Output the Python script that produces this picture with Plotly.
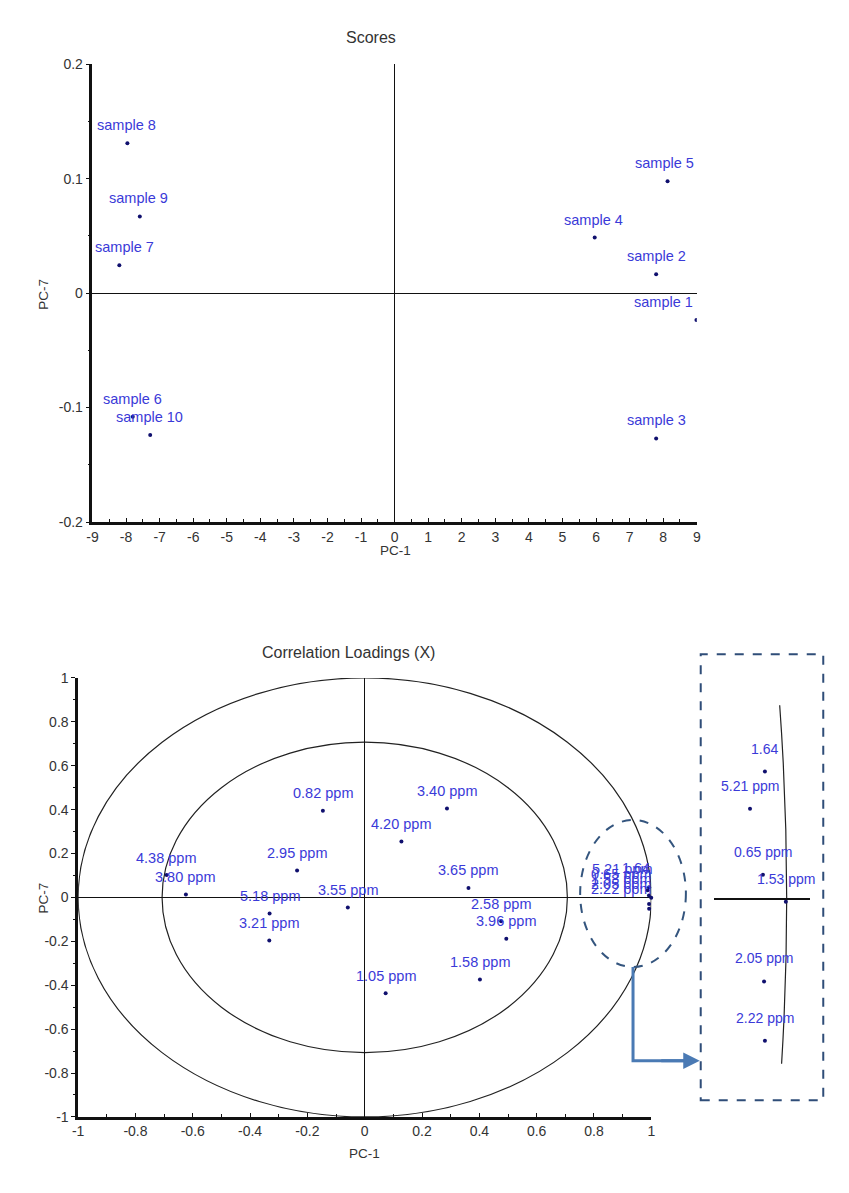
import plotly.graph_objects as go

# ---------------- data ----------------
score_labels = ["sample 1", "sample 2", "sample 3", "sample 4", "sample 5",
                "sample 6", "sample 7", "sample 8", "sample 9", "sample 10"]
score_pc1 = [8.99, 7.79, 7.79, 5.96, 8.13, -7.80, -8.20, -7.96, -7.59, -7.28]
score_pc7 = [-0.0235, 0.0164, -0.127, 0.0485, 0.0977, -0.108, 0.0244, 0.131, 0.067, -0.124]

load_labels = ["3.40 ppm", "4.20 ppm", "3.65 ppm", "3.96 ppm", "2.58 ppm", "1.58 ppm",
               "1.05 ppm", "0.82 ppm", "2.95 ppm", "4.38 ppm", "3.80 ppm", "5.18 ppm",
               "3.55 ppm", "3.21 ppm",
               "1.64", "5.21 ppm", "0.65 ppm", "1.53 ppm", "2.05 ppm", "2.22 ppm"]
load_pc1 = [0.287, 0.128, 0.362, 0.494, 0.476, 0.402, 0.073, -0.146, -0.236, -0.691,
            -0.624, -0.332, -0.059, -0.333,
            0.9924, 0.9872, 0.9917, 0.9997, 0.9921, 0.9924]
load_pc7 = [0.405, 0.255, 0.043, -0.188, -0.109, -0.374, -0.437, 0.395, 0.122, 0.102,
            0.013, -0.073, -0.046, -0.196,
            0.046, 0.0325, 0.0086, -0.0011, -0.030, -0.0515]
cluster_idx = [14, 15, 16, 17, 18, 19]   # points shown magnified in the inset

score_ticks_x = list(range(-9, 10))
score_ticks_y = [-0.2, -0.1, 0, 0.1, 0.2]
load_ticks_x = [-1, -0.8, -0.6, -0.4, -0.2, 0, 0.2, 0.4, 0.6, 0.8, 1]
load_ticks_y = [-1, -0.8, -0.6, -0.4, -0.2, 0, 0.2, 0.4, 0.6, 0.8, 1]

# label offsets (pixels) -- styling only
score_xshift = [-33, 0, 0, -1, -3, 0, 5, -1, -1, -1]
load_xshift = [0, 0, 0, 0, 0, 0, 0, 0, 0, -1, -1, 0, 0, 0,
               -13, -26, -28, -30, -28, -28]
load_yshift = [17.5] * 14 + [19, 21, 21.5, 18.5, 20, 20]

# ---------------- layout helpers ----------------
W, H = 849, 1193
def PX(x):
    return x / W
def PY(y):
    return 1 - y / H

LABEL_COLOR = "#3a3ad8"
POINT_COLOR = "#10106e"
TEXT_GRAY = "#333333"
FONT = "Liberation Sans, Arial, sans-serif"

def fmt(v):
    return str(v)

fig = go.Figure()

# Scores
fig.add_trace(go.Scatter(x=score_pc1, y=score_pc7, mode="markers",
                         marker=dict(size=4, color=POINT_COLOR),
                         xaxis="x", yaxis="y", showlegend=False, hoverinfo="skip"))
# Loadings
fig.add_trace(go.Scatter(x=load_pc1, y=load_pc7, mode="markers",
                         marker=dict(size=4, color=POINT_COLOR),
                         xaxis="x2", yaxis="y2", showlegend=False, hoverinfo="skip",
                         cliponaxis=False))
# Inset (magnified cluster)
fig.add_trace(go.Scatter(x=[load_pc1[i] for i in cluster_idx],
                         y=[load_pc7[i] for i in cluster_idx], mode="markers",
                         marker=dict(size=4, color=POINT_COLOR),
                         xaxis="x3", yaxis="y3", showlegend=False, hoverinfo="skip",
                         cliponaxis=False))

annotations = []
for lab, xv, yv, dx in zip(score_labels, score_pc1, score_pc7, score_xshift):
    annotations.append(dict(x=xv, y=yv, xref="x", yref="y", text=lab, showarrow=False,
                            xshift=dx, yshift=18, xanchor="center", yanchor="middle",
                            font=dict(family=FONT, size=14.5, color=LABEL_COLOR)))
for lab, xv, yv, dx, dy in zip(load_labels, load_pc1, load_pc7, load_xshift, load_yshift):
    annotations.append(dict(x=xv, y=yv, xref="x2", yref="y2", text=lab, showarrow=False,
                            xshift=dx, yshift=dy, xanchor="center", yanchor="middle",
                            font=dict(family=FONT, size=14.5, color=LABEL_COLOR)))
for i in cluster_idx:
    annotations.append(dict(x=load_pc1[i], y=load_pc7[i], xref="x3", yref="y3",
                            text=load_labels[i], showarrow=False, yshift=23,
                            xanchor="center", yanchor="middle",
                            font=dict(family=FONT, size=14, color=LABEL_COLOR)))

def paper_text(x, y, text, size, angle=0):
    return dict(x=PX(x), y=PY(y), xref="paper", yref="paper", text=text, showarrow=False,
                xanchor="center", yanchor="middle", textangle=angle,
                font=dict(family=FONT, size=size, color=TEXT_GRAY))

# titles and axis titles
annotations += [
    paper_text(369, 30, "Scores", 16),
    paper_text(394, 550, "PC-1", 13.5),
    paper_text(38, 290, "PC-7", 13.5, -90),
    paper_text(347, 653, "Correlation Loadings (X)", 16),
    paper_text(363, 1161, "PC-1", 13.5),
    paper_text(38, 902, "PC-7", 13.5, -90),
    # arrow head pointing to the inset
    dict(x=PX(702), y=PY(1067), xref="paper", yref="paper", text="", showarrow=True,
         ax=-40, ay=0, arrowhead=2, arrowsize=1.1, arrowwidth=3, arrowcolor="#4a7ab4"),
]

shapes = [
    # loading circles (r = 1 and r = sqrt(0.5))
    dict(type="circle", xref="x2", yref="y2", x0=-1, y0=-1, x1=1, y1=1,
         line=dict(color="#222222", width=1.2), layer="below"),
    dict(type="circle", xref="x2", yref="y2", x0=-0.7071, y0=-0.7071, x1=0.7071, y1=0.7071,
         line=dict(color="#222222", width=1.2), layer="below"),
    # arc of unit circle in inset
    dict(type="circle", xref="x3", yref="y3", x0=-1, y0=-1, x1=1, y1=1,
         line=dict(color="#222222", width=1.2), layer="below"),
    # dashed ellipse highlighting the cluster
    dict(type="circle", xref="paper", yref="paper", x0=PX(581), x1=PX(688),
         y0=PY(972), y1=PY(823), line=dict(color="#34557e", width=2, dash="dash")),
    # inset dashed frame
    dict(type="rect", xref="paper", yref="paper", x0=PX(703), x1=PX(827),
         y0=PY(1107), y1=PY(655), line=dict(color="#2f4d78", width=2, dash="dash")),
    # connector
    dict(type="path", xref="paper", yref="paper",
         path=f"M {PX(634.5)} {PY(972)} L {PX(634.5)} {PY(1067)} L {PX(690)} {PY(1067)}",
         line=dict(color="#4a7ab4", width=3)),
]

tickfont = dict(family=FONT, size=14, color=TEXT_GRAY)
common = dict(showgrid=False, showline=True, linecolor="#111111", linewidth=2.5,
              tickfont=tickfont, tickcolor="#111111", mirror=False,
              zeroline=True, zerolinecolor="#111111", zerolinewidth=1.2)

fig.update_layout(
    width=W, height=H, margin=dict(l=0, r=0, t=0, b=0),
    paper_bgcolor="white", plot_bgcolor="white", showlegend=False,
    xaxis=dict(domain=[PX(87.5), PX(699)], anchor="y", range=[-9, 9],
               tickvals=score_ticks_x, ticktext=[fmt(v) for v in score_ticks_x],
               ticks="inside", ticklen=4,
               minor=dict(dtick=0.5, ticks="inside", ticklen=3, tickcolor="#111111"),
               **common),
    yaxis=dict(domain=[PY(521), PY(57)], anchor="x", range=[-0.2, 0.2],
               tickvals=score_ticks_y, ticktext=[fmt(v) for v in score_ticks_y],
               ticks="outside", ticklen=4,
               minor=dict(dtick=0.05, ticks="outside", ticklen=2, tickcolor="#111111"),
               **common),
    xaxis2=dict(domain=[PX(73), PX(653)], anchor="y2", range=[-1, 1],
                tickvals=load_ticks_x, ticktext=[fmt(v) for v in load_ticks_x],
                ticks="inside", ticklen=4,
                minor=dict(dtick=0.1, ticks="inside", ticklen=3, tickcolor="#111111"),
                **common),
    yaxis2=dict(domain=[PY(1124), PY(679)], anchor="x2", range=[-1, 1],
                tickvals=load_ticks_y, ticktext=[fmt(v) for v in load_ticks_y],
                ticks="outside", ticklen=4,
                minor=dict(dtick=0.1, ticks="outside", ticklen=2, tickcolor="#111111"),
                **common),
    xaxis3=dict(domain=[PX(716), PX(814)], anchor="y3", range=[0.97448, 1.008276],
                showgrid=False, showline=False, showticklabels=False, ticks="",
                zeroline=False),
    yaxis3=dict(domain=[PY(1070), PY(706.7)], anchor="x3", range=[-0.05975, 0.07],
                showgrid=False, showline=False, showticklabels=False, ticks="",
                zeroline=True, zerolinecolor="#111111", zerolinewidth=2),
    annotations=annotations,
    shapes=shapes,
)

fig.write_html("out.html")
